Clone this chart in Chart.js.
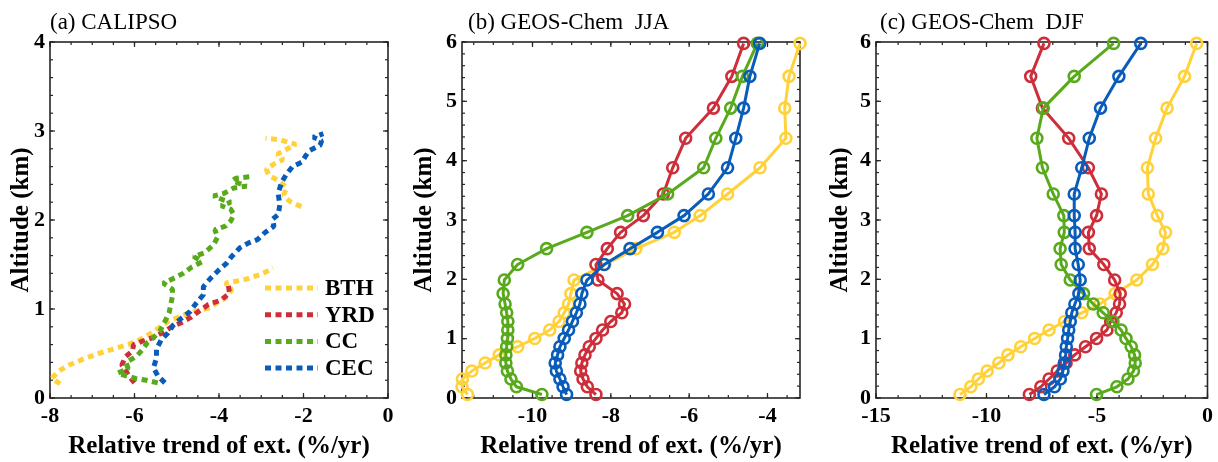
<!DOCTYPE html>
<html>
<head>
<meta charset="utf-8">
<script src="https://cdn.jsdelivr.net/npm/chart.js@4"></script>
<style>
  html, body { margin: 0; padding: 0; background: #fff; width: 1218px; height: 462px; overflow: hidden; }
  .panel { position: absolute; top: 0; height: 462px; }
</style>
</head>
<body>
<div class="panel" style="left:0;width:400px"><canvas id="chartA"></canvas></div>
<div class="panel" style="left:400px;width:410px"><canvas id="chartB"></canvas></div>
<div class="panel" style="left:810px;width:408px"><canvas id="chartC"></canvas></div>
<script>
// ---- data ----
const seriesNames = ['BTH', 'YRD', 'CC', 'CEC'];
const seriesColors = ['#FFD23C', '#CD2E3A', '#58AA1C', '#0A5CBA'];

// (a) CALIPSO profiles (altitude km, relative trend %/yr); null = no data
const calAltBTH = [0.16,0.22,0.30,0.37,0.44,0.50,0.55,0.60,0.65,0.71,0.78,0.86,0.92,0.97,1.01,1.08,1.14,1.22,1.29,1.33,1.39,1.46,1.80,2.15,2.21,2.28,2.36,2.44,2.50,2.57,2.63,2.68,2.74,2.80,2.85,2.90,2.92];
const calTrendBTH = [-7.76,-7.96,-7.80,-7.55,-7.20,-6.85,-6.50,-6.15,-5.90,-5.67,-5.45,-5.20,-4.90,-4.60,-4.25,-4.02,-3.80,-3.70,-3.85,-3.40,-3.00,-2.72,null,-2.05,-2.33,-2.47,-2.40,-2.58,-2.82,-2.88,-2.70,-2.48,-2.62,-2.38,-2.18,-2.55,-2.90];
const calAltYRD = [0.17,0.24,0.30,0.37,0.46,0.53,0.60,0.65,0.68,0.74,0.80,0.85,0.90,0.97,1.05,1.10,1.18,1.27];
const calTrendYRD = [-6.00,-6.12,-6.20,-6.30,-6.22,-6.05,-6.02,-5.75,-5.55,-5.32,-5.12,-4.88,-4.69,-4.49,-4.25,-3.95,-3.75,-3.78];
const calAltCC = [0.17,0.20,0.22,0.25,0.28,0.33,0.40,0.47,0.55,0.62,0.68,0.75,0.86,0.96,1.08,1.15,1.22,1.29,1.35,1.40,1.47,1.53,1.59,1.63,1.72,1.81,1.89,1.93,1.99,2.06,2.12,2.16,2.20,2.23,2.27,2.30,2.36,2.38,2.44,2.47,2.49];
const calTrendCC = [-5.45,-5.72,-5.98,-6.20,-6.40,-6.15,-6.20,-5.95,-5.80,-5.70,-5.55,-5.40,-5.28,-5.18,-5.13,-5.10,-5.10,-5.32,-5.05,-4.85,-4.65,-4.40,-4.60,-4.35,-4.13,-4.03,-4.10,-3.85,-3.72,-3.65,-3.72,-3.95,-3.72,-3.92,-4.13,-3.88,-3.65,-3.35,-3.68,-3.60,-3.18];
const calAltCEC = [0.17,0.25,0.34,0.45,0.55,0.65,0.73,0.82,0.90,0.97,1.07,1.16,1.25,1.34,1.43,1.51,1.59,1.69,1.74,1.78,1.86,1.93,2.01,2.06,2.17,2.30,2.42,2.51,2.60,2.65,2.72,2.78,2.84,2.89,2.93,2.97];
const calTrendCEC = [-5.28,-5.45,-5.55,-5.48,-5.48,-5.37,-5.21,-5.08,-4.88,-4.69,-4.53,-4.37,-4.37,-4.21,-4.02,-3.83,-3.70,-3.50,-3.31,-3.09,-2.91,-2.70,-2.73,-2.60,-2.56,-2.60,-2.52,-2.41,-2.26,-2.04,-1.95,-1.86,-1.61,-1.57,-1.77,-1.53];

// GEOS-Chem model level altitudes (km)
const gcAlt = [0.058,0.189,0.320,0.454,0.589,0.726,0.864,1.004,1.146,1.290,1.436,1.584,1.759,1.988,2.249,2.517,2.792,3.074,3.439,3.880,4.377,4.886,5.421,5.976];

// (b) JJA
const jjaBTH = [-11.66,-11.80,-11.79,-11.55,-11.21,-10.85,-10.38,-9.94,-9.56,-9.32,-9.19,-9.08,-9.02,-8.94,-8.15,-7.36,-6.38,-5.72,-5.02,-4.19,-3.53,-3.56,-3.45,-3.17];
const jjaYRD = [-8.38,-8.60,-8.71,-8.77,-8.74,-8.66,-8.55,-8.38,-8.21,-8.00,-7.72,-7.65,-7.84,-8.33,-8.38,-8.09,-7.75,-7.17,-6.66,-6.42,-6.09,-5.38,-4.91,-4.61];
const jjaCC = [-9.76,-10.41,-10.55,-10.64,-10.68,-10.68,-10.66,-10.64,-10.63,-10.63,-10.66,-10.70,-10.75,-10.72,-10.38,-9.64,-8.61,-7.57,-6.55,-5.63,-5.32,-4.94,-4.64,-4.26];
const jjaCEC = [-9.13,-9.22,-9.30,-9.39,-9.42,-9.36,-9.30,-9.19,-9.08,-8.98,-8.88,-8.79,-8.74,-8.61,-8.17,-7.51,-6.81,-6.13,-5.51,-5.02,-4.81,-4.61,-4.45,-4.20];

// (c) DJF
const djfBTH = [-11.20,-10.71,-10.37,-9.97,-9.44,-9.03,-8.45,-7.82,-7.17,-6.47,-5.69,-4.87,-4.18,-3.20,-2.49,-2.02,-1.90,-2.27,-2.68,-2.72,-2.35,-1.83,-1.04,-0.49];
const djfYRD = [-8.06,-7.54,-7.17,-6.80,-6.40,-6.01,-5.52,-5.02,-4.55,-4.38,-4.13,-3.98,-3.95,-4.20,-4.69,-5.35,-5.39,-5.02,-4.80,-5.39,-6.28,-7.47,-8.00,-7.40];
const djfCC = [-5.02,-4.10,-3.60,-3.35,-3.27,-3.30,-3.45,-3.69,-3.91,-4.28,-4.72,-5.17,-5.61,-6.21,-6.62,-6.67,-6.48,-6.50,-6.98,-7.47,-7.72,-7.43,-6.03,-4.25];
const djfCEC = [-7.40,-6.92,-6.66,-6.54,-6.48,-6.42,-6.39,-6.33,-6.28,-6.21,-6.14,-6.00,-5.82,-5.76,-5.85,-5.99,-5.99,-6.03,-6.03,-5.69,-5.35,-4.84,-4.01,-3.02];

// tick labels
const xTicksA = [-8, -6, -4, -2, 0];
const xTicksB = [-10, -8, -6, -4];
const xTicksC = [-15, -10, -5, 0];
const yTicksA = [0, 1, 2, 3, 4];
const yTicksGC = [0, 1, 2, 3, 4, 5, 6];

const serifFont = "'Liberation Serif', 'Times New Roman', serif";
const axisColor = '#262626';

function toPoints(xs, ys) {
    return xs.map((v, i) => ({ x: v, y: ys[i] }));
}

// box with inward major + minor ticks on all four sides
const axesBox = {
    id: 'axesBox',
    beforeDatasetsDraw(chart, args, opts) {
        const { ctx, chartArea: a, scales: { x, y } } = chart;
        ctx.save();
        ctx.strokeStyle = axisColor;
        ctx.lineWidth = 1.2;
        const seg = (x1, y1, x2, y2) => { ctx.beginPath(); ctx.moveTo(x1, y1); ctx.lineTo(x2, y2); ctx.stroke(); };
        const xMark = (v, len) => { const p = x.getPixelForValue(v); seg(p, a.bottom, p, a.bottom - len); seg(p, a.top, p, a.top + len); };
        const yMark = (v, len) => { const p = y.getPixelForValue(v); seg(a.left, p, a.left + len, p); seg(a.right, p, a.right - len, p); };
        const n0 = Math.ceil(x.min / opts.xMinor - 1e-6), n1 = Math.floor(x.max / opts.xMinor + 1e-6);
        for (let n = n0; n <= n1; n++) xMark(n * opts.xMinor, 3);
        const m0 = Math.ceil(y.min / opts.yMinor - 1e-6), m1 = Math.floor(y.max / opts.yMinor + 1e-6);
        for (let m = m0; m <= m1; m++) yMark(m * opts.yMinor, 3);
        x.ticks.forEach(t => xMark(t.value, 5));
        y.ticks.forEach(t => yMark(t.value, 5));
        ctx.lineWidth = 1.6;
        ctx.strokeRect(a.left, a.top, a.width, a.height);
        ctx.restore();
    }
};

// panel caption above the plot
const panelTitle = {
    id: 'panelTitle',
    afterDraw(chart, args, opts) {
        const { ctx, chartArea: a } = chart;
        ctx.save();
        ctx.fillStyle = '#000';
        ctx.font = '23px ' + serifFont;
        ctx.textBaseline = 'alphabetic';
        ctx.fillText(opts.text, a.left + opts.dx, 29);
        ctx.restore();
    }
};

// legend inside panel (a)
const insideLegend = {
    id: 'insideLegend',
    afterDraw(chart, args, opts) {
        if (!opts.show) return;
        const { ctx, chartArea: a } = chart;
        ctx.save();
        chart.data.datasets.forEach((ds, i) => {
            const yy = a.top + 246 + i * 26.7;
            ctx.strokeStyle = ds.borderColor;
            ctx.lineWidth = ds.borderWidth;
            ctx.setLineDash(ds.borderDash || []);
            ctx.beginPath();
            ctx.moveTo(a.right - 123, yy);
            ctx.lineTo(a.right - 70, yy);
            ctx.stroke();
            ctx.setLineDash([]);
            ctx.fillStyle = '#000';
            ctx.font = 'bold 23px ' + serifFont;
            ctx.textBaseline = 'middle';
            ctx.fillText(ds.label, a.right - 63, yy + 1);
        });
        ctx.restore();
    }
};

function makeChart(id, datasets, cfg) {
    return new Chart(document.getElementById(id), {
        type: 'line',
        data: { datasets: datasets },
        plugins: [axesBox, panelTitle, insideLegend],
        options: {
            responsive: true,
            maintainAspectRatio: false,
            devicePixelRatio: 1,
            animation: false,
            layout: { autoPadding: false, padding: { left: 0, right: cfg.padRight, top: 42, bottom: 0 } },
            plugins: {
                legend: { display: false },
                tooltip: { enabled: false },
                axesBox: { xMinor: cfg.xMinor, yMinor: 0.2 },
                panelTitle: { text: cfg.title, dx: cfg.titleDx },
                insideLegend: { show: cfg.legend }
            },
            scales: {
                x: {
                    type: 'linear',
                    min: cfg.xMin,
                    max: cfg.xMax,
                    afterBuildTicks: s => { s.ticks = cfg.xTicks.map(v => ({ value: v })); },
                    afterFit: s => { s.height = 64; },
                    grid: { display: false, drawTicks: false },
                    border: { display: false },
                    ticks: { color: '#000', padding: 5, maxRotation: 0, font: { family: serifFont, size: 22, weight: 'bold' } },
                    title: { display: true, text: 'Relative trend of ext. (%/yr)', color: '#000', padding: { top: 0, bottom: 0 }, font: { family: serifFont, size: 25, weight: 'bold' } }
                },
                y: {
                    type: 'linear',
                    min: 0,
                    max: cfg.yMax,
                    afterBuildTicks: s => { s.ticks = cfg.yTicks.map(v => ({ value: v })); },
                    afterFit: s => { s.width = cfg.yWidth; },
                    grid: { display: false, drawTicks: false },
                    border: { display: false },
                    ticks: { color: '#000', padding: 5, font: { family: serifFont, size: 22, weight: 'bold' } },
                    title: { display: true, text: 'Altitude (km)', color: '#000', padding: { top: cfg.yTitlePad, bottom: 0 }, font: { family: serifFont, size: 25, weight: 'bold' } }
                }
            }
        }
    });
}

function dottedSet(i, xs, ys) {
    return {
        label: seriesNames[i], data: toPoints(xs, ys), order: 4 - i,
        borderColor: seriesColors[i], borderWidth: 5, borderDash: [6, 4.5], borderCapStyle: 'butt', borderJoinStyle: 'bevel',
        pointRadius: 0, tension: 0, spanGaps: false, clip: false, fill: false
    };
}

function circleSet(i, xs) {
    return {
        label: seriesNames[i], data: toPoints(xs, gcAlt), order: 4 - i,
        borderColor: seriesColors[i], borderWidth: 3, borderJoinStyle: 'round',
        pointRadius: 5.5, pointBorderWidth: 2.6, pointBorderColor: seriesColors[i], pointBackgroundColor: 'rgba(0,0,0,0)',
        tension: 0, clip: false, fill: false
    };
}

makeChart('chartA', [
    dottedSet(0, calTrendBTH, calAltBTH),
    dottedSet(1, calTrendYRD, calAltYRD),
    dottedSet(2, calTrendCC, calAltCC),
    dottedSet(3, calTrendCEC, calAltCEC)
], { title: '(a) CALIPSO', titleDx: 0, legend: true, xMin: -8, xMax: 0, xTicks: xTicksA, xMinor: 0.5,
     yMax: 4, yTicks: yTicksA, yWidth: 50, yTitlePad: 7, padRight: 12 });

makeChart('chartB', [
    circleSet(0, jjaBTH), circleSet(1, jjaYRD), circleSet(2, jjaCC), circleSet(3, jjaCEC)
], { title: '(b) GEOS-Chem  JJA', titleDx: 6, legend: false, xMin: -11.8, xMax: -3.17, xTicks: xTicksB, xMinor: 0.5,
     yMax: 6, yTicks: yTicksGC, yWidth: 62, yTitlePad: 10, padRight: 10 });

makeChart('chartC', [
    circleSet(0, djfBTH), circleSet(1, djfYRD), circleSet(2, djfCC), circleSet(3, djfCEC)
], { title: '(c) GEOS-Chem  DJF', titleDx: 4, legend: false, xMin: -15, xMax: 0, xTicks: xTicksC, xMinor: 1,
     yMax: 6, yTicks: yTicksGC, yWidth: 66, yTitlePad: 16, padRight: 5 });
</script>
</body>
</html>
